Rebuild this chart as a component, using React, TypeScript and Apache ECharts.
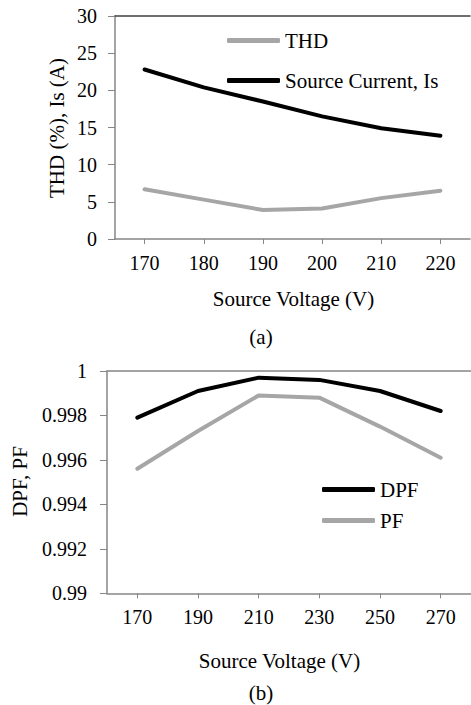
import React, { useEffect, useRef } from "react";
import * as echarts from "echarts";

const voltA = ["170", "180", "190", "200", "210", "220"];
const thd = [6.7, 5.3, 3.9, 4.1, 5.5, 6.5];
const sourceCurrent = [22.8, 20.4, 18.5, 16.5, 14.9, 13.9];

const voltB = ["170", "190", "210", "230", "250", "270"];
const dpf = [0.9979, 0.9991, 0.9997, 0.9996, 0.9991, 0.9982];
const pf = [0.9956, 0.9973, 0.9989, 0.9988, 0.9975, 0.9961];

const FONT = "Liberation Serif";
const GRAY = "#a6a6a6";
const AXIS = "#868686";

function txt(text: string, x: number, y: number, rot = 0) {
  return {
    type: "text",
    x,
    y,
    rotation: rot,
    style: {
      text,
      fontSize: 21,
      fontFamily: FONT,
      fill: "#000",
      align: "center",
      verticalAlign: "middle",
      textAlign: "center",
      textVerticalAlign: "middle",
    },
  };
}

export default function App() {
  const ref = useRef<HTMLDivElement>(null);
  useEffect(() => {
    if (!ref.current) return;
    const chart = echarts.init(ref.current, undefined, { renderer: "svg" });
    const label = { fontSize: 20, fontFamily: FONT, color: "#000" };
    const catAxis = (data: string[], gridIndex: number) => ({
      type: "category",
      gridIndex,
      data,
      boundaryGap: true,
      axisLine: { show: true, lineStyle: { color: AXIS, width: 1.5 } },
      axisTick: { show: true, alignWithLabel: true, length: 5, lineStyle: { color: AXIS } },
      axisLabel: { ...label, margin: 14 },
      splitLine: { show: false },
    });
    const topAxis = (data: string[], gridIndex: number, color: string) => ({
      type: "category",
      gridIndex,
      position: "top",
      data,
      axisLine: { show: true, lineStyle: { color, width: 1.5 } },
      axisTick: { show: false },
      axisLabel: { show: false },
      splitLine: { show: false },
    });
    const legendText = { fontSize: 21, fontFamily: FONT, color: "#000" };
    const option: any = {
      animation: false,
      textStyle: { fontFamily: FONT },
      grid: [
        { left: 115, top: 16, width: 355, height: 223 },
        { left: 107, top: 371, width: 371.4, height: 222.3 },
      ],
      xAxis: [
        catAxis(voltA, 0),
        catAxis(voltB, 1),
        topAxis(voltA, 0, "#404040"),
        topAxis(voltB, 1, AXIS),
      ],
      yAxis: [
        {
          type: "value",
          gridIndex: 0,
          min: 0,
          max: 30,
          interval: 5,
          axisLine: { show: true, lineStyle: { color: AXIS, width: 1.5 } },
          axisTick: { show: true, length: 7, lineStyle: { color: AXIS } },
          axisLabel: { ...label, margin: 18 },
          splitLine: { show: false },
        },
        {
          type: "value",
          gridIndex: 1,
          min: 0.99,
          max: 1,
          interval: 0.002,
          axisLine: { show: true, lineStyle: { color: AXIS, width: 1.5 } },
          axisTick: { show: true, length: 7, lineStyle: { color: AXIS } },
          axisLabel: {
            ...label,
            margin: 20,
            formatter: (v: number) => String(parseFloat(v.toFixed(3))),
          },
          splitLine: { show: false },
        },
      ],
      legend: [
        {
          data: ["THD", "Source Current, Is"],
          orient: "vertical",
          left: 222,
          top: 25,
          itemWidth: 53,
          itemHeight: 5,
          itemGap: 19,
          icon: "roundRect",
          textStyle: legendText,
        },
        {
          data: ["DPF", "PF"],
          orient: "vertical",
          left: 317,
          top: 474,
          itemWidth: 53,
          itemHeight: 5,
          itemGap: 10,
          icon: "roundRect",
          textStyle: legendText,
        },
      ],
      series: [
        {
          name: "THD",
          type: "line",
          xAxisIndex: 0,
          yAxisIndex: 0,
          data: thd,
          symbol: "none",
          color: GRAY,
          lineStyle: { width: 4, color: GRAY, cap: "round", join: "round" },
        },
        {
          name: "Source Current, Is",
          type: "line",
          xAxisIndex: 0,
          yAxisIndex: 0,
          data: sourceCurrent,
          symbol: "none",
          color: "#000",
          lineStyle: { width: 4, color: "#000", cap: "round", join: "round" },
        },
        {
          name: "DPF",
          type: "line",
          xAxisIndex: 1,
          yAxisIndex: 1,
          data: dpf,
          symbol: "none",
          color: "#000",
          lineStyle: { width: 4, color: "#000", cap: "round", join: "round" },
        },
        {
          name: "PF",
          type: "line",
          xAxisIndex: 1,
          yAxisIndex: 1,
          data: pf,
          symbol: "none",
          color: GRAY,
          lineStyle: { width: 4, color: GRAY, cap: "round", join: "round" },
        },
      ],
      graphic: [
        txt("THD (%), Is (A)", 57, 128, Math.PI / 2),
        txt("Source Voltage (V)", 293.5, 299),
        txt("(a)", 261, 337),
        txt("DPF, PF", 20, 481.5, Math.PI / 2),
        txt("Source Voltage (V)", 279.5, 661),
        txt("(b)", 261, 693),
      ],
    };
    chart.setOption(option);
    return () => chart.dispose();
  }, []);
  return (
    <div
      ref={ref}
      style={{ position: "fixed", left: 0, top: 0, width: 471, height: 705, background: "#fff" }}
    />
  );
}
